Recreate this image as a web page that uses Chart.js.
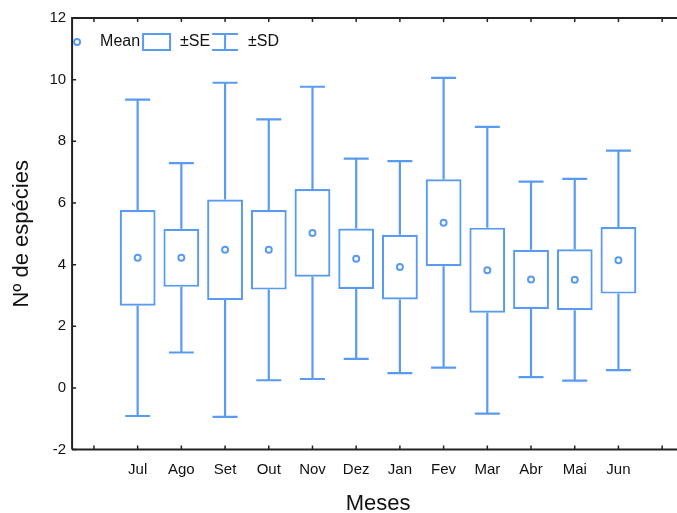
<!DOCTYPE html>
<html>
<head>
<meta charset="utf-8">
<script src="https://cdn.jsdelivr.net/npm/chart.js@4.4.1/dist/chart.umd.min.js"></script>
<style>
  html, body { margin: 0; padding: 0; background: #fff; overflow: hidden; }
  #wrap { width: 690px; height: 513px; }
</style>
</head>
<body>
<div id="wrap"><canvas id="boxChart"></canvas></div>
<script>
// meses (jul -> jun), média, erro padrão e desvio padrão
const months = ['Jul', 'Ago', 'Set', 'Out', 'Nov', 'Dez', 'Jan', 'Fev', 'Mar', 'Abr', 'Mai', 'Jun'];
const means = [4.22, 4.22, 4.48, 4.48, 5.03, 4.19, 3.92, 5.36, 3.82, 3.52, 3.51, 4.14];
const se    = [1.55, 0.94, 1.63, 1.29, 1.42, 0.98, 1.05, 1.41, 1.38, 0.96, 0.99, 1.08];
const sd    = [5.13, 3.07, 5.42, 4.23, 4.74, 3.25, 3.44, 4.70, 4.65, 3.17, 3.27, 3.56];
const yTicks = [-2, 0, 2, 4, 6, 8, 10, 12];

const BLUE = '#5a9bf2';
const FONT = '"Liberation Sans", Arial, sans-serif';

// slots vazios no início e no fim do eixo, como na figura original
const labels = [''].concat(months, ['']);
const pad = arr => [null].concat(arr, [null]);

const seBoxes = pad(months.map((m, i) => [means[i] - se[i], means[i] + se[i]]));
const meanPts = pad(means);

// barras de desvio padrão (acima e abaixo da caixa)
const whiskers = {
    id: 'whiskers',
    beforeDatasetsDraw(chart) {
        const { ctx, scales: { x, y } } = chart;
        ctx.save();
        ctx.strokeStyle = BLUE;
        ctx.lineWidth = 2.2;
        months.forEach((m, i) => {
            const px = x.getPixelForValue(i + 1);
            const capHalf = 12.5;
            const top = y.getPixelForValue(means[i] + sd[i]);
            const bot = y.getPixelForValue(means[i] - sd[i]);
            const seTop = y.getPixelForValue(means[i] + se[i]);
            const seBot = y.getPixelForValue(means[i] - se[i]);
            ctx.beginPath();
            ctx.moveTo(px, seTop); ctx.lineTo(px, top);
            ctx.moveTo(px - capHalf, top); ctx.lineTo(px + capHalf, top);
            ctx.moveTo(px, seBot); ctx.lineTo(px, bot);
            ctx.moveTo(px - capHalf, bot); ctx.lineTo(px + capHalf, bot);
            ctx.stroke();
        });
        ctx.restore();
    }
};

// moldura com marcas para dentro + legenda interna
const frame = {
    id: 'frame',
    afterDraw(chart) {
        const { ctx, chartArea: a, scales: { x, y } } = chart;
        ctx.save();
        ctx.strokeStyle = '#222';
        ctx.lineWidth = 2;
        ctx.beginPath();
        ctx.moveTo(a.left, a.bottom); ctx.lineTo(a.left, a.top); ctx.lineTo(a.right, a.top);
        ctx.moveTo(a.left, a.bottom); ctx.lineTo(a.right, a.bottom);
        ctx.stroke();
        ctx.lineWidth = 1.5;
        ctx.beginPath();
        labels.forEach((l, i) => {
            const px = x.getPixelForValue(i);
            ctx.moveTo(px, a.bottom); ctx.lineTo(px, a.bottom - 4);
            ctx.moveTo(px, a.top); ctx.lineTo(px, a.top + 4);
        });
        yTicks.forEach(v => {
            const py = y.getPixelForValue(v);
            ctx.moveTo(a.left, py); ctx.lineTo(a.left + 4, py);
        });
        ctx.stroke();

        // legenda
        const ly = a.top + 24;
        ctx.strokeStyle = BLUE;
        ctx.lineWidth = 2;
        ctx.beginPath();
        ctx.arc(a.left + 5, ly, 3, 0, Math.PI * 2);
        ctx.stroke();
        ctx.strokeRect(a.left + 71, ly - 8, 27, 16);
        ctx.beginPath();
        ctx.moveTo(a.left + 140, ly - 8); ctx.lineTo(a.left + 166, ly - 8);
        ctx.moveTo(a.left + 153, ly - 8); ctx.lineTo(a.left + 153, ly + 8);
        ctx.moveTo(a.left + 140, ly + 8); ctx.lineTo(a.left + 166, ly + 8);
        ctx.stroke();
        ctx.fillStyle = '#111';
        ctx.font = '16px ' + FONT;
        ctx.textBaseline = 'middle';
        ctx.fillText('Mean', a.left + 28, ly);
        ctx.fillText('±SE', a.left + 108, ly);
        ctx.fillText('±SD', a.left + 176, ly);
        ctx.restore();
    }
};

new Chart('boxChart', {
    data: {
        labels: labels,
        datasets: [
            {
                type: 'line',
                label: 'Mean',
                data: meanPts,
                showLine: false,
                pointRadius: 3,
                pointBorderWidth: 2,
                pointBorderColor: BLUE,
                pointBackgroundColor: '#fff',
                order: 0
            },
            {
                type: 'bar',
                label: '±SE',
                data: seBoxes,
                backgroundColor: '#fff',
                borderColor: BLUE,
                borderWidth: 2.2,
                borderSkipped: false,
                barPercentage: 0.82,
                categoryPercentage: 1,
                order: 1
            }
        ]
    },
    options: {
        responsive: true,
        maintainAspectRatio: false,
        animation: false,
        layout: { padding: { top: 18, right: 6, left: 4, bottom: -4 } },
        plugins: {
            legend: { display: false },
            tooltip: { enabled: false }
        },
        scales: {
            x: {
                type: 'category',
                offset: true,
                grid: { display: false, drawTicks: false },
                border: { display: false },
                ticks: { color: '#111', font: { size: 15, family: FONT }, padding: 11, autoSkip: false, maxRotation: 0 },
                title: { display: true, text: 'Meses', color: '#111', font: { size: 22, family: FONT }, padding: { top: 1, bottom: 0 } }
            },
            y: {
                min: -2,
                max: 12,
                afterBuildTicks(axis) { axis.ticks = yTicks.map(v => ({ value: v })); },
                grid: { display: false, drawTicks: false },
                border: { display: false },
                ticks: { color: '#111', font: { size: 15, family: FONT }, padding: 6 },
                title: { display: true, text: 'Nº de espécies', color: '#111', font: { size: 22, family: FONT }, padding: { top: 5, bottom: 8 } }
            }
        }
    },
    plugins: [whiskers, frame]
});
</script>
</body>
</html>
